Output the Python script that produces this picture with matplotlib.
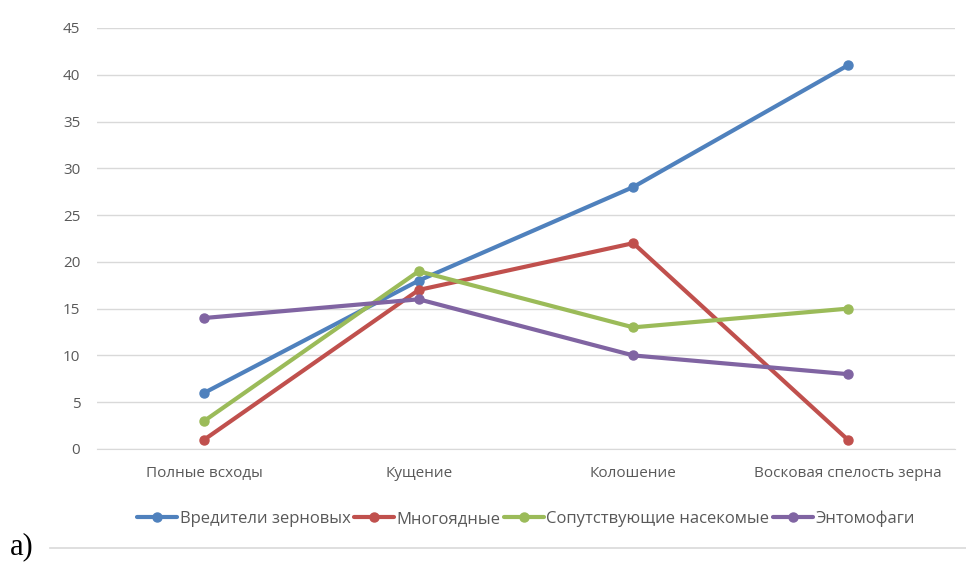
import numpy as np
import matplotlib.pyplot as plt
from matplotlib.lines import Line2D

# Данные графика
stadii = ['Полные всходы', 'Кущение', 'Колошение', 'Восковая спелость зерна']
vrediteli = [6, 18, 28, 41]
mnogoyadnye = [1, 17, 22, 1]
soputstv = [3, 19, 13, 15]
entomofagi = [14, 16, 10, 8]

nazvaniya = ['Вредители зерновых', 'Многоядные', 'Сопутствующие насекомые', 'Энтомофаги']
cveta = ['#4F81BD', '#C0504D', '#9BBB59', '#8064A2']

plt.rcParams['font.family'] = ['Open Sans', 'DejaVu Sans']

fig = plt.figure(figsize=(9.66, 5.63), dpi=100)
ax = fig.add_axes([0.1004, 0.2025, 0.8882, 0.7478])

x = np.arange(len(stadii))
for ryad, nazv, cv in zip([vrediteli, mnogoyadnye, soputstv, entomofagi], nazvaniya, cveta):
    ax.plot(x, ryad, color=cv, linewidth=3, marker='o', markersize=6.5,
            label=nazv, solid_capstyle='round')

ax.set_xlim(-0.5, len(stadii) - 0.5)
ax.set_ylim(0, 45)
ax.set_yticks(np.arange(0, 46, 5))
ax.set_xticks(x)
ax.set_xticklabels(stadii, fontsize=11.5)
ax.grid(axis='y', color='#D9D9D9', linewidth=1)
ax.set_axisbelow(True)
for s in ['top', 'right', 'left']:
    ax.spines[s].set_visible(False)
ax.spines['bottom'].set_color('#D9D9D9')
ax.tick_params(axis='both', length=0, colors='#595959', labelsize=11)
ax.tick_params(axis='y', pad=12)
ax.tick_params(axis='x', pad=12)

ax.legend(loc='center', bbox_to_anchor=(0.5, -0.165), ncol=4, frameon=False,
          fontsize=12, handlelength=2.4, handletextpad=0.15, columnspacing=0.2,
          labelcolor='#595959')

# подпись а) и линия
fig.text(0.010, 0.016, 'а)', fontsize=22, family='Liberation Serif', va='baseline')
fig.add_artist(Line2D([0.052, 1.0], [0.027, 0.027], color='#D9D9D9', linewidth=1.2,
                      transform=fig.transFigure))

plt.savefig('out.png')
